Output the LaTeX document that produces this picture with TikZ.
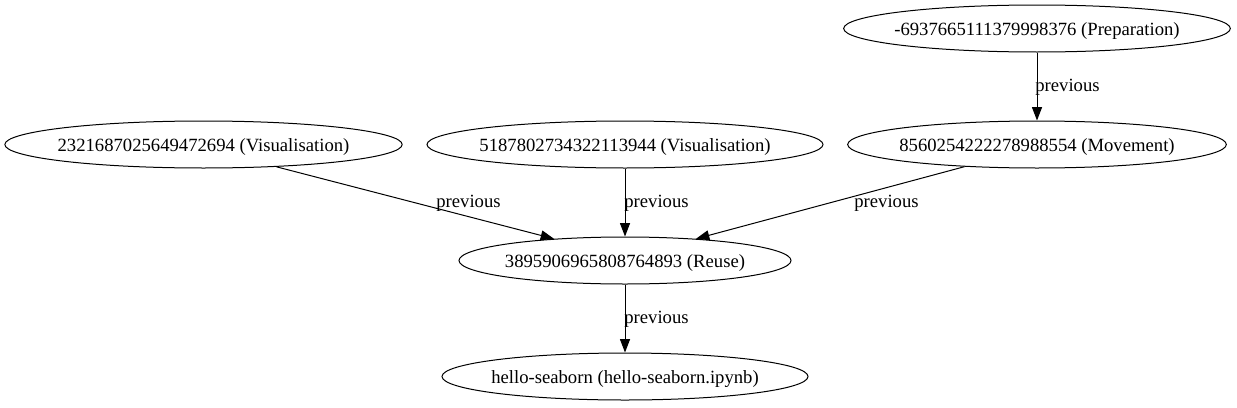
\documentclass[tikz,border=0pt]{standalone}
\usepackage{fontspec}
\setmainfont{Liberation Serif}
\usetikzlibrary{shapes.geometric,arrows.meta}
\begin{document}
\begin{tikzpicture}[x=0.75pt,y=-0.75pt,
  gnode/.style={draw,ellipse,line width=0.75pt,inner sep=0pt,minimum height=35.25pt,text height=10.5pt,text depth=0pt,font=\fontsize{14pt}{16pt}\selectfont},
  gedge/.style={draw,line width=0.75pt,-{Triangle[length=10pt,width=7.5pt]}},
  elabel/.style={font=\fontsize{14pt}{16pt}\selectfont,inner sep=0pt,anchor=base}]
\useasboundingbox (0,0) rectangle (1237,407);
\node[gnode,minimum width=290pt] (prep) at (1037,28.5) {\makebox[0pt]{-6937665111379998376 (Preparation)}};
\node[gnode,minimum width=284pt] (move) at (1037,144.5) {\makebox[0pt]{8560254222278988554 (Movement)}};
\node[gnode,minimum width=298pt] (vis1) at (203.5,144.5) {\makebox[0pt]{2321687025649472694 (Visualisation)}};
\node[gnode,minimum width=297pt] (vis2) at (625,144.5) {\makebox[0pt]{5187802734322113944 (Visualisation)}};
\node[gnode,minimum width=249pt] (reuse) at (625,260.5) {\makebox[0pt]{3895906965808764893 (Reuse)}};
\node[gnode,minimum width=274.5pt] (hello) at (625,376.5) {\makebox[0pt]{hello-seaborn (hello-seaborn.ipynb)}};
\draw[gedge] (prep.south) -- (move.north);
\draw[gedge] (vis1.-17) -- (reuse.163.5);
\draw[gedge] (vis2.south) -- (reuse.north);
\draw[gedge] (move.197.5) -- (reuse.17);
\draw[gedge] (reuse.south) -- (hello.north);
\node[elabel] (l1) at (1067.5,91.5) {previous};
\node[elabel] (l2) at (468.5,207.5) {previous};
\node[elabel] (l3) at (656.5,207.5) {previous};
\node[elabel] (l4) at (886.5,207.5) {previous};
\node[elabel] (l5) at (656.5,323.5) {previous};
\end{tikzpicture}
\end{document}
